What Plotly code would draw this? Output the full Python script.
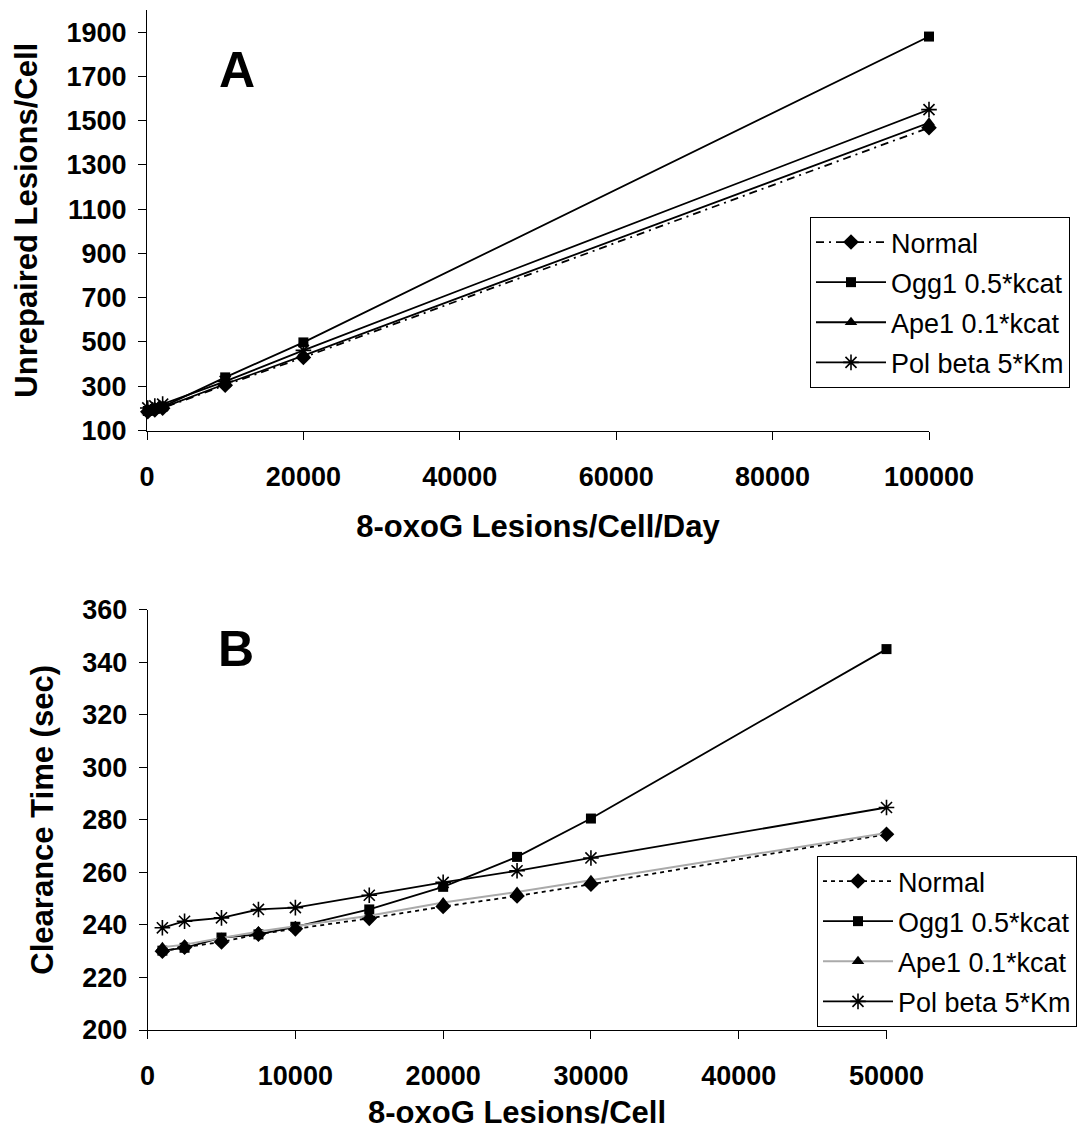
import plotly.graph_objects as go

# ---------------- data ----------------
series_names = ["Normal", "Ogg1 0.5*kcat", "Ape1 0.1*kcat", "Pol beta 5*Km"]

# Panel A: 8-oxoG lesions/cell/day vs unrepaired lesions/cell
xA = [100, 1000, 2000, 10000, 20000, 100000]
normalA = [185, 193, 201, 305, 430, 1468]
ogg1A = [188, 197, 207, 340, 498, 1880]
ape1A = [186, 195, 203, 310, 438, 1490]
polA = [202, 211, 219, 322, 462, 1550]

# Panel B: 8-oxoG lesions/cell vs clearance time (sec)
xB = [1000, 2500, 5000, 7500, 10000, 15000, 20000, 25000, 30000, 50000]
normalB = [230, 231.5, 233.5, 236.5, 238.5, 242.5, 247, 251, 255.5, 274.5]
ogg1B = [230.2, 231.3, 235.2, 236.4, 239.3, 245.9, 254.5, 265.9, 280.5, 345]
ape1B = [231.5, 232.5, 235, 237.5, 239.5, 243.5, 248.5, 252.5, 257, 275]
polB = [238.9, 241.4, 242.7, 245.9, 246.6, 251.3, 256.2, 260.6, 265.5, 284.7]

yticksA = [100, 300, 500, 700, 900, 1100, 1300, 1500, 1700, 1900]
xticksA = [0, 20000, 40000, 60000, 80000, 100000]
yticksB = [200, 220, 240, 260, 280, 300, 320, 340, 360]
xticksB = [0, 10000, 20000, 30000, 40000, 50000]

FONT = "Liberation Sans, Arial, sans-serif"
PAGE_W, PAGE_H = 1085, 1143
OFF = 8  # default body margin of the html page
W, H = PAGE_W - OFF, PAGE_H - OFF


def fx(px):
    return (px - OFF) / W


def fy(py):
    return (H - (py - OFF)) / H


fig = go.Figure()

stylesA = [
    dict(line=dict(color="black", width=1.8, dash="8px,5px,2px,5px"), marker=dict(symbol="diamond", size=12, color="black")),
    dict(line=dict(color="black", width=1.8), marker=dict(symbol="square", size=10, color="black")),
    dict(line=dict(color="black", width=1.8), marker=dict(symbol="triangle-up", size=11, color="black")),
    dict(line=dict(color="black", width=1.8), marker=dict(symbol="asterisk-open", size=13, color="black", line=dict(width=1.6, color="black"))),
]
stylesB = [
    dict(line=dict(color="black", width=1.8, dash="4px,4px"), marker=dict(symbol="diamond", size=12, color="black")),
    dict(line=dict(color="black", width=1.8), marker=dict(symbol="square", size=10, color="black")),
    dict(line=dict(color="#aaaaaa", width=2), marker=dict(symbol="triangle-up", size=11, color="black")),
    dict(line=dict(color="black", width=1.8), marker=dict(symbol="asterisk-open", size=13, color="black", line=dict(width=1.6, color="black"))),
]

for name, ys, st in zip(series_names, [normalA, ogg1A, ape1A, polA], stylesA):
    fig.add_trace(go.Scatter(x=xA, y=ys, name=name, mode="lines+markers",
                             xaxis="x", yaxis="y", legend="legend", cliponaxis=False,
                             legendgroup="A" + name, **st))
for name, ys, st in zip(series_names, [normalB, ogg1B, ape1B, polB], stylesB):
    fig.add_trace(go.Scatter(x=xB, y=ys, name=name, mode="lines+markers",
                             xaxis="x2", yaxis="y2", legend="legend2", cliponaxis=False,
                             legendgroup="B" + name, **st))

tickfont = dict(family=FONT, size=27, color="black")
titlefont = dict(family=FONT, size=31, color="black")

axis_common = dict(showline=True, linecolor="black", linewidth=1, showgrid=False,
                   zeroline=False, ticks="outside", ticklen=8, tickcolor="black",
                   tickfont=tickfont, automargin=False)


def bold(s):
    return "<b>" + s + "</b>"


legend_common = dict(xanchor="left", yanchor="top",
                     bordercolor="black", borderwidth=1, bgcolor="white",
                     font=dict(family=FONT, size=27, color="black"),
                     traceorder="grouped", tracegroupgap=2, itemwidth=70)

fig.update_layout(
    template="none",
    width=W, height=H,
    margin=dict(l=0, r=0, t=0, b=0, autoexpand=False),
    paper_bgcolor="white", plot_bgcolor="white",
    font=dict(family=FONT, color="black"),
    xaxis=dict(domain=[fx(147), fx(929)], anchor="y", range=[0, 100000],
               tickvals=xticksA, ticktext=[bold(str(v)) for v in xticksA],
               ticklabelstandoff=14,
               title=dict(text=bold("8-oxoG Lesions/Cell/Day"), font=titlefont, standoff=24),
               **axis_common),
    yaxis=dict(domain=[fy(430.5), fy(10)], anchor="x", range=[100, 2000],
               tickvals=yticksA, ticktext=[bold(str(v)) for v in yticksA],
               ticklabelstandoff=6,
               title=dict(text=bold("Unrepaired Lesions/Cell"), font=titlefont, standoff=19),
               **axis_common),
    xaxis2=dict(domain=[fx(147.6), fx(886.5)], anchor="y2", range=[0, 50000],
                tickvals=xticksB, ticktext=[bold(str(v)) for v in xticksB],
                ticklabelstandoff=14,
                title=dict(text=bold("8-oxoG Lesions/Cell"), font=titlefont, standoff=10),
                **axis_common),
    yaxis2=dict(domain=[fy(1030), fy(609.7)], anchor="x2", range=[200, 360],
                tickvals=yticksB, ticktext=[bold(str(v)) for v in yticksB],
                ticklabelstandoff=6,
                title=dict(text=bold("Clearance Time (sec)"), font=titlefont, standoff=19),
                **axis_common),
    legend=dict(x=fx(810), y=fy(217), **legend_common),
    legend2=dict(x=fx(817), y=fy(856), **legend_common),
    showlegend=True,
    annotations=[
        dict(text=bold("A"), x=11500, y=1730, xref="x", yref="y", showarrow=False,
             font=dict(family=FONT, size=50, color="black")),
        dict(text=bold("B"), x=6000, y=345, xref="x2", yref="y2", showarrow=False,
             font=dict(family=FONT, size=50, color="black")),
    ],
)

fig.write_html("out.html")
